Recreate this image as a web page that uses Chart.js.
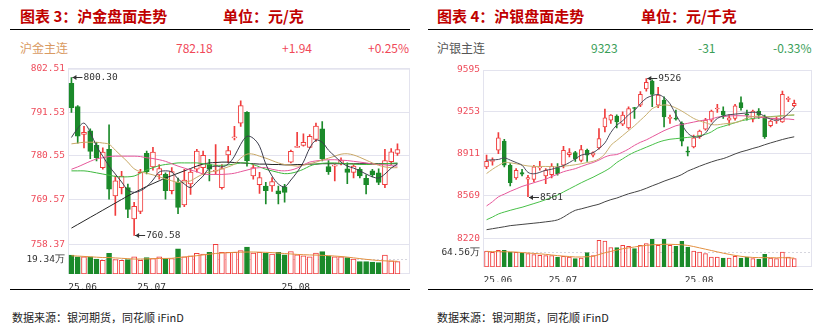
<!DOCTYPE html>
<html>
<head>
<meta charset="utf-8">
<script src="https://cdn.jsdelivr.net/npm/chart.js@4.4.1/dist/chart.umd.min.js"></script>
<style>
  body { margin: 0; width: 822px; height: 329px; background: #fff; position: relative; overflow: hidden;
         font-family: "Noto Sans CJK SC", sans-serif; }
  .t { position: absolute; white-space: pre; }
  .title { top: 5px; font-size: 15px; font-weight: bold; color: #c00000; }
  .quote { top: 40px; font-size: 12px; line-height: 16px; }
  .rule { position: absolute; height: 0; border-top: 1.5px solid #000; }
  .src { top: 309px; font-size: 11px; color: #222; }
  canvas { position: absolute; top: 60px; }
</style>
</head>
<body>
<div class="t title" style="left:20px">图表 3：沪金盘面走势</div>
<div class="t title" style="left:223px">单位：元/克</div>
<div class="t title" style="left:437px">图表 4：沪银盘面走势</div>
<div class="t title" style="left:641px">单位：元/千克</div>
<div class="rule" style="left:10px;width:400px;top:29px"></div>
<div class="rule" style="left:428px;width:385px;top:29px"></div>

<div class="t quote" style="left:20px;color:#d99a62">沪金主连</div>
<div class="t quote" style="left:176px;color:#f04858">782.18</div>
<div class="t quote" style="left:282px;color:#f04858">+1.94</div>
<div class="t quote" style="left:368px;color:#f04858">+0.25%</div>
<div class="t quote" style="left:437px;color:#555">沪银主连</div>
<div class="t quote" style="left:591px;color:#3a9e58">9323</div>
<div class="t quote" style="left:698px;color:#3a9e58">-31</div>
<div class="t quote" style="left:773px;color:#3a9e58">-0.33%</div>

<canvas id="gold" width="411" height="230" style="left:0px"></canvas>
<canvas id="silver" width="411" height="230" style="left:411px"></canvas>

<div class="rule" style="left:10px;width:400px;top:289px"></div>
<div class="rule" style="left:428px;width:385px;top:289px"></div>
<div class="t src" style="left:12px">数据来源：银河期货，同花顺 iFinD</div>
<div class="t src" style="left:437px">数据来源：银河期货，同花顺 iFinD</div>

<script>
// bar 0 = first trading day shown (mid June 2025), last bar = late August
const monthTickIdx = [0, 11, 34];
const monthTickLabels = ['25.06', '25.07', '25.08'];

// 沪金主连, 元/克
const goldPriceTicks = [802.51, 791.53, 780.55, 769.57, 758.37];
const goldVolTick = 19.34;
const goldOpen = [798.8,793.0,786.0,786.9,783.2,777.6,782.2,770.5,772.6,772.6,764.7,766.6,781.2,777.8,775.8,775.9,771.8,773.9,768.2,773.5,777.2,777.6,778.4,776.7,772.6,780.8,785.1,788.8,791.5,775.5,773.3,773.0,773.0,771.8,772.8,779.0,782.7,783.2,782.7,784.7,787.4,777.9,778.0,778.6,777.3,776.4,777.2,774.9,776.8,776.3,773.3,779.1,781.2];
const goldHigh = [800.3,793.2,788.0,787.4,784.0,782.6,788.4,775.5,776.7,773.5,768.9,777.2,781.8,782.7,778.4,776.3,777.6,775.0,777.2,777.2,782.2,781.8,779.7,783.4,778.4,783.0,788.0,794.4,791.7,778.4,776.4,773.9,775.1,773.0,773.4,782.0,786.5,786.1,785.9,788.8,789.2,779.4,778.4,780.1,778.8,778.4,777.6,775.8,777.2,777.3,782.2,782.4,783.6];
const goldLow = [791.5,783.8,782.6,779.9,779.3,777.2,769.7,765.6,771.0,765.0,760.58,766.0,776.0,777.0,774.7,769.7,771.0,766.0,767.8,770.9,776.5,775.9,774.3,775.9,772.2,778.8,784.6,788.0,778.0,774.7,771.1,768.5,771.6,768.5,768.9,778.8,782.7,783.0,782.6,784.2,779.3,775.9,774.3,778.3,773.6,775.0,775.0,771.0,775.3,773.3,772.6,778.4,780.7];
const goldClose = [792.7,785.5,786.5,781.7,780.1,781.5,772.2,774.3,775.5,767.1,767.9,776.4,776.6,781.5,777.4,771.8,776.6,767.6,774.5,776.5,781.8,780.7,777.2,776.9,777.4,781.9,785.3,793.2,779.3,777.6,775.1,771.8,774.1,771.0,771.4,781.7,782.9,784.0,785.5,788.1,779.8,776.6,778.2,779.4,776.4,778.0,775.5,773.3,775.8,773.9,779.4,781.6,782.18];
const goldVol = [25.3,23.0,23.0,23.0,19.8,18.4,27.6,19.3,18.4,19.3,23.0,18.4,22.1,20.7,23.0,20.7,20.7,33.6,23.0,24.4,27.6,26.7,29.0,39.6,29.0,29.0,29.0,31.3,35.9,28.1,29.0,28.1,26.7,29.0,25.8,29.9,25.8,24.4,23.0,28.1,29.9,24.4,23.0,23.0,22.1,19.8,16.6,16.6,16.1,15.2,25.3,17.5,16.6];
const goldMa5 = [785.2,787.5,788.8,786.5,783.0,780.5,778.0,776.0,774.0,772.0,771.4,771.8,772.8,774.5,776.5,776.8,776.5,774.8,773.5,772.6,774.0,775.5,777.5,778.0,777.8,778.5,780.5,783.5,785.5,785.0,783.0,778.5,775.5,773.5,772.8,774.5,776.5,779.0,782.5,784.5,784.0,782.0,780.5,779.0,778.0,777.5,776.8,776.0,775.3,775.0,776.0,777.5,778.5];
const goldMa10 = [783.6,783.8,784.0,784.0,784.0,783.8,783.5,782.0,780.5,779.0,777.3,776.6,776.2,775.8,775.3,774.8,774.3,773.9,774.0,774.3,775.2,776.0,776.5,776.8,777.3,777.8,778.5,780.0,781.0,781.0,780.5,780.0,779.4,778.8,778.4,778.2,778.0,778.2,778.6,779.0,779.5,780.0,780.5,781.0,781.1,780.8,780.2,779.5,778.8,778.2,777.8,777.6,777.6];
const goldMa20 = [777.2,777.8,778.5,779.2,779.8,780.1,780.4,780.5,780.5,780.5,780.5,780.4,780.1,779.9,779.6,779.2,778.6,778.0,777.5,777.0,776.6,776.0,775.9,775.9,775.9,776.0,776.2,776.6,777.0,777.4,777.6,777.6,777.2,776.9,776.8,777.0,777.5,778.3,779.0,779.3,779.5,779.6,779.6,779.5,779.4,779.2,779.0,778.8,778.5,778.4,778.3,778.1,778.0];
const goldMa30 = [776.8,776.8,776.8,776.6,776.3,776.0,775.7,775.4,775.3,775.3,775.5,776.2,777.0,777.6,778.1,778.4,778.6,778.8,778.8,778.8,778.8,778.6,778.4,778.2,778.2,778.3,778.5,778.8,778.8,778.4,777.8,777.2,776.8,776.4,776.1,776.2,776.6,777.2,778.0,778.5,778.7,778.8,778.8,778.7,778.6,778.5,778.4,778.4,778.4,778.5,778.6,778.7,778.8];
const goldMa60 = [762.4,763.3,764.2,765.1,766.0,766.9,767.8,768.7,769.6,770.5,771.3,772.1,772.9,773.6,774.3,775.0,775.6,776.2,776.8,777.4,778.0,778.5,778.8,778.9,779.0,779.0,778.9,778.8,778.7,778.6,778.5,778.5,778.4,778.4,778.3,778.3,778.4,778.4,778.5,778.5,778.6,778.6,778.6,778.6,778.6,778.6,778.6,778.6,778.6,778.6,778.6,778.6,778.6];
const goldVolMa = [24.4,24.0,23.5,23.0,22.5,22.0,22.0,21.5,21.0,20.5,20.0,20.0,20.2,20.5,20.8,20.8,21.0,22.0,22.8,23.5,24.5,25.5,26.5,27.5,28.0,28.5,29.0,29.2,29.4,29.4,29.2,29.0,28.6,28.0,27.4,26.8,26.2,25.8,25.5,25.3,25.0,24.5,24.0,23.4,22.6,21.6,20.6,19.6,18.8,18.0,17.6,17.2,17.0];

// 沪银主连, 元/千克
const silverPriceTicks = [9595, 9253, 8911, 8569, 8220];
const silverVolTick = 64.56;
const silverOpen = [8804,8850,8940,9014,8818,8714,8758,8704,8703,8796,8730,8741,8799,8818,8905,8921,8858,8940,8900,8960,9131,9186,9218,9153,9123,9286,9309,9440,9505,9309,9350,9200,9200,9159,8928,8968,9050,9112,9186,9277,9260,9186,9200,9330,9232,9194,9260,9213,9140,9180,9172,9355,9303];
const silverHigh = [8900,8878,9085,9030,8831,8790,8785,8736,8818,8850,8790,8831,8831,8973,8954,8932,8981,8949,8927,9118,9276,9232,9230,9254,9295,9290,9418,9526,9515,9453,9377,9227,9268,9172,8968,9063,9104,9200,9268,9314,9295,9232,9314,9377,9268,9268,9281,9227,9186,9213,9423,9377,9350];
const silverLow = [8790,8818,8913,8804,8649,8703,8730,8561,8681,8777,8668,8714,8736,8796,8886,8850,8845,8850,8886,8949,9090,9159,9123,9140,9112,9200,9295,9423,9295,9287,9131,9159,9186,8976,8894,8960,9036,9104,9172,9249,9200,9145,9186,9268,9186,9172,9200,9036,9131,9159,9167,9336,9295];
const silverClose = [8850,8858,9041,8818,8676,8777,8744,8717,8804,8799,8777,8810,8750,8940,8921,8872,8946,8900,8919,9036,9205,9227,9172,9227,9281,9281,9396,9494,9396,9390,9213,9205,9194,9014,8925,9041,9096,9186,9260,9281,9227,9205,9303,9287,9227,9260,9227,9050,9178,9186,9396,9357,9323];
const silverVol = [72,66,75,75,67.6,66,63,60,55.6,52.5,51,51,45,48,45,37.5,40.5,64.6,51,120,117,87,87,97.6,93,82.6,97.6,105,124.6,97.6,124.6,97.6,93,115.6,90,72,67.6,60,45,45,40.5,40.5,48,40.5,45,37.5,34.5,57,40.5,37.5,67.6,45,37.5];
const silverMa5 = [8859,8862,8865,8878,8860,8840,8818,8760,8748,8760,8777,8785,8800,8815,8840,8870,8900,8910,8920,8955,9000,9085,9145,9180,9230,9265,9320,9365,9385,9395,9370,9320,9230,9150,9080,9050,9050,9080,9150,9200,9220,9230,9235,9240,9245,9250,9245,9215,9195,9185,9200,9240,9290];
const silverMa10 = [8750,8785,8815,8840,8838,8830,8820,8812,8808,8808,8808,8807,8805,8810,8815,8822,8830,8840,8850,8870,8910,8980,9020,9060,9100,9140,9185,9230,9280,9300,9310,9305,9285,9260,9230,9200,9180,9165,9150,9148,9155,9160,9165,9180,9205,9215,9218,9215,9212,9215,9220,9225,9230];
const silverMa20 = [8486,8520,8560,8582,8605,8625,8645,8660,8675,8690,8705,8725,8745,8765,8778,8790,8808,8825,8840,8860,8885,8900,8905,8925,8950,8980,9005,9025,9050,9075,9100,9120,9140,9150,9160,9170,9180,9188,9195,9210,9215,9220,9222,9222,9220,9215,9210,9205,9200,9198,9196,9195,9190];
const silverMa30 = [8373,8395,8420,8436,8450,8463,8475,8490,8505,8520,8537,8555,8575,8600,8625,8650,8675,8698,8720,8745,8770,8800,8840,8870,8900,8925,8945,8965,8985,9005,9020,9030,9035,9040,9045,9050,9060,9070,9090,9120,9135,9150,9165,9180,9190,9200,9205,9210,9215,9218,9222,9225,9227];
const silverMa60 = [8292,8300,8308,8316,8325,8330,8335,8340,8345,8350,8356,8362,8372,8395,8425,8450,8462,8475,8488,8500,8520,8537,8550,8568,8585,8598,8612,8630,8650,8668,8688,8705,8722,8742,8770,8790,8810,8828,8845,8860,8872,8890,8910,8927,8940,8955,8968,8985,9000,9014,9028,9040,9050];
const silverVolMa = [70,69,69,68.5,68,67,65,63,61,59,57,54,51,49,47,45,45,46,48,56,64,70,76,82,86,90,94,97,100,101,102,102,101,100,97,92,86,80,74,68,62,57,52,48,45,43,42,42,42,41,42,41,40];

const RED = '#f03c3c';
const GREEN = '#1b8a2a';
const GRID = '#e3e3ee';
const MONO = '"DejaVu Sans Mono", monospace';

Chart.defaults.font.family = MONO;
Chart.defaults.font.size = 9.5;

const framePlugin = {
  id: 'frame',
  beforeDatasetsDraw(chart) {
    const { ctx, chartArea: a } = chart;
    ctx.save();
    ctx.strokeStyle = GRID;
    ctx.lineWidth = 1;
    ctx.strokeRect(a.left + 0.5, a.top + 0.5, a.width - 1, a.height - 1);
    ctx.restore();
  }
};

// high / low labels with a little arrow
const marksPlugin = {
  id: 'marks',
  afterDatasetsDraw(chart, args, opts) {
    const { ctx } = chart;
    const xs = chart.scales.x;
    const ys = chart.scales.y;
    ctx.save();
    ctx.strokeStyle = '#333';
    ctx.fillStyle = '#333';
    ctx.lineWidth = 1;
    ctx.font = '9.5px ' + MONO;
    ctx.textBaseline = 'middle';
    (opts.items || []).forEach(m => {
      const x = xs.getPixelForValue(m.i) + 1;
      const y = Math.round(ys.getPixelForValue(m.v)) + 0.5;
      ctx.beginPath();
      ctx.moveTo(x, y);
      ctx.lineTo(x + 10, y);
      ctx.stroke();
      ctx.beginPath();
      ctx.moveTo(x, y);
      ctx.lineTo(x + 4, y - 2.5);
      ctx.lineTo(x + 4, y + 2.5);
      ctx.fill();
      ctx.fillText(m.text, x + 11, y);
    });
    ctx.restore();
  }
};

function buildPanel(id, p) {
  const idx = p.close.map((_, i) => i);
  const up = idx.map(i => p.close[i] >= p.open[i]);
  const edge = up.map(u => u ? RED : GREEN);
  const fill = up.map(u => u ? '#fff' : GREEN);

  const line = (vals, color, axis) => ({
    type: 'line',
    data: idx.map(i => ({ x: i, y: vals[i] })),
    borderColor: color,
    borderWidth: 1,
    pointRadius: 0,
    tension: 0.35,
    yAxisID: axis,
    order: 0
  });

  const datasets = p.mas.map(([vals, color]) => line(vals, color, 'y'));
  datasets.push(line(p.volMa, '#e39040', 'yv'));
  datasets.push({
    data: idx.map(i => ({ x: i, y: [p.open[i], p.close[i]] })),
    backgroundColor: fill, borderColor: edge, borderWidth: 1, borderSkipped: false,
    barThickness: p.bodyW, minBarLength: 1, grouped: false, yAxisID: 'y', order: 1
  });
  datasets.push({
    data: idx.map(i => ({ x: i, y: [p.low[i], p.high[i]] })),
    backgroundColor: edge, borderWidth: 0,
    barThickness: 1, grouped: false, yAxisID: 'y', order: 2
  });
  datasets.push({
    data: idx.map(i => ({ x: i, y: p.vol[i] })),
    backgroundColor: fill, borderColor: edge, borderWidth: 1, borderSkipped: false,
    barThickness: p.bodyW, grouped: false, yAxisID: 'yv', order: 1
  });

  return new Chart(document.getElementById(id), {
    type: 'bar',
    data: { datasets },
    plugins: [framePlugin, marksPlugin],
    options: {
      responsive: false,
      devicePixelRatio: 1,
      animation: false,
      layout: { padding: p.padding },
      plugins: {
        legend: { display: false },
        tooltip: { enabled: false },
        marks: { items: p.marks.map(m => ({ i: m.i, v: m.v, text: m.v.toFixed(p.dec) })) }
      },
      scales: {
        x: {
          type: 'linear', min: p.xMin, max: p.xMax, offset: false,
          grid: { display: false }, border: { display: false },
          afterBuildTicks: s => { s.ticks = monthTickIdx.map(i => ({ value: i - 0.5 })); },
          afterFit: s => { s.height = 15; },
          ticks: {
            align: 'start', autoSkip: false, maxRotation: 0, padding: 0, color: '#333',
            callback: v => monthTickLabels[monthTickIdx.indexOf(v + 0.5)]
          }
        },
        y: {
          type: 'linear', position: 'left', stack: 'k', stackWeight: p.priceH, weight: 1,
          min: p.priceTicks[p.priceTicks.length - 1], max: p.priceTicks[0],
          grid: { color: GRID, drawTicks: false }, border: { color: GRID },
          afterBuildTicks: s => { s.ticks = p.priceTicks.map(v => ({ value: v })); },
          afterFit: s => { s.width = p.axisW; },
          ticks: { color: '#ee4b5a', padding: 3, callback: v => Number(v).toFixed(p.dec) }
        },
        yv: {
          type: 'linear', position: 'left', stack: 'k', stackWeight: p.volH, weight: 0,
          min: 0, max: p.volMax,
          grid: { color: '#d6d6de', drawTicks: false }, border: { color: GRID, dash: [2, 2] },
          afterBuildTicks: s => { s.ticks = [{ value: p.volTick }]; },
          afterFit: s => { s.width = p.axisW; },
          ticks: { color: '#333', padding: 3, callback: () => p.volTick.toFixed(2) + '万' }
        }
      }
    }
  });
}

buildPanel('gold', {
  open: goldOpen, high: goldHigh, low: goldLow, close: goldClose, vol: goldVol,
  mas: [[goldMa5, '#3c3c4c'], [goldMa10, '#c8a765'], [goldMa20, '#e6579a'], [goldMa30, '#3db83d'], [goldMa60, '#262626']],
  volMa: goldVolMa, priceTicks: goldPriceTicks, dec: 2, volTick: goldVolTick, volMax: 40,
  xMin: -0.55, xMax: 54, axisW: 68, bodyW: 5, priceH: 176, volH: 30,
  padding: { top: 8, right: 1, bottom: 1, left: 0 },
  marks: [{ i: 0, v: goldHigh[0] }, { i: 10, v: goldLow[10] }]
});

buildPanel('silver', {
  open: silverOpen, high: silverHigh, low: silverLow, close: silverClose, vol: silverVol,
  mas: [[silverMa5, '#4a4a5a'], [silverMa10, '#c9b070'], [silverMa20, '#e6579a'], [silverMa30, '#48c048'], [silverMa60, '#444']],
  volMa: silverVolMa, priceTicks: silverPriceTicks, dec: 0, volTick: silverVolTick, volMax: 128,
  xMin: -0.6, xMax: 55, axisW: 72, bodyW: 4, priceH: 168, volH: 28.4,
  padding: { top: 10, right: 10, bottom: 8, left: 0 },
  marks: [{ i: 27, v: silverHigh[27] }, { i: 7, v: silverLow[7] }]
});
</script>
</body>
</html>
